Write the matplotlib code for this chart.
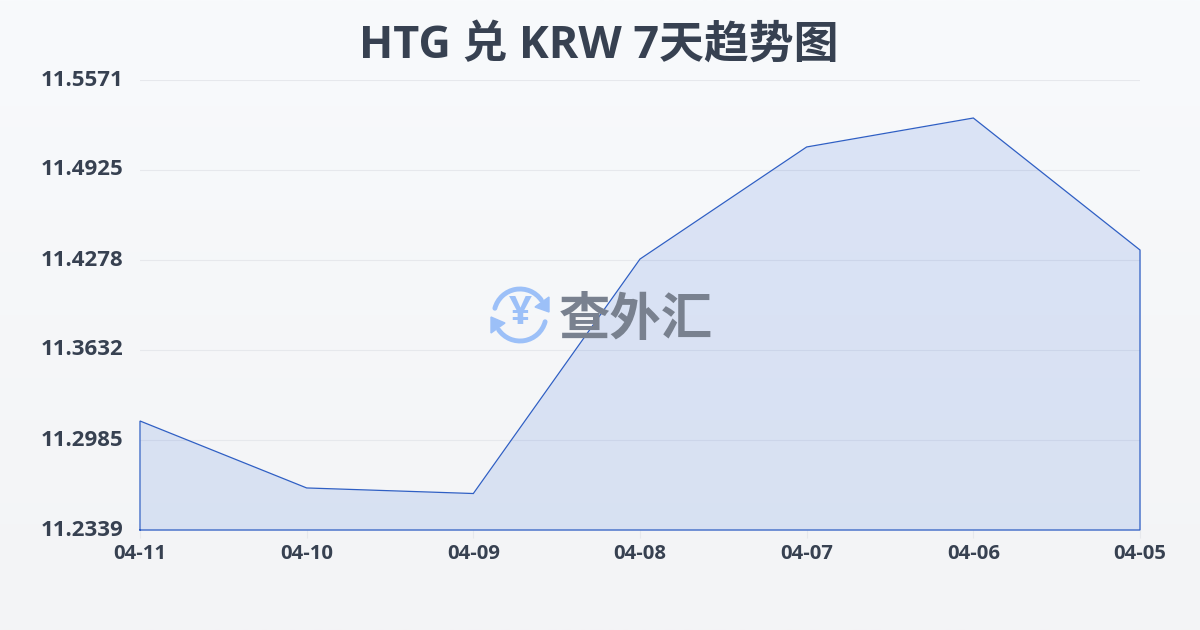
"""HTG / KRW seven-day trend, area chart with the watermark logo in the middle."""
import numpy as np
import matplotlib
matplotlib.use("Agg")
import matplotlib.pyplot as plt
from matplotlib.patches import Arc, Polygon

dates = ["04-11", "04-10", "04-09", "04-08", "04-07", "04-06", "04-05"]
rates = [11.3122, 11.2641, 11.2601, 11.4285, 11.5090, 11.5298, 11.4350]
y_ticks = [11.2339, 11.2985, 11.3632, 11.4278, 11.4925, 11.5571]
y_labels = ["11.2339", "11.2985", "11.3632", "11.4278", "11.4925", "11.5571"]

W, H = 1200, 630
LATIN = "Open Sans"
CJK = [LATIN, "Noto Sans CJK SC", "DejaVu Sans"]
TEXT = "#374151"
LINE = "#2f5fc4"
BLUE = "#9cc0f8"

fig = plt.figure(figsize=(W / 100, H / 100), dpi=100)

# page background, a faint vertical gradient
bg = fig.add_axes([0, 0, 1, 1], zorder=0)
bg.imshow(np.linspace(0, 1, 256).reshape(-1, 1), aspect="auto",
          cmap=matplotlib.colors.LinearSegmentedColormap.from_list("bg", ["#f8fafc", "#f3f4f6"]))
bg.set_axis_off()

ax = fig.add_axes([140 / W, 1 - 530 / H, 1000 / W, 450 / H], zorder=1)
ax.patch.set_alpha(0)
x = np.arange(len(dates))
ax.set_xlim(0, len(dates) - 1)
ax.set_ylim(y_ticks[0], y_ticks[-1])

ax.grid(axis="y", color="#e6e8ec", linewidth=0.8)
ax.set_axisbelow(True)
ax.fill_between(x, rates, y_ticks[0], color="#3c6fdc", alpha=0.15, linewidth=0, zorder=2)
ax.plot([x[0], *x, x[-1], x[0]], [y_ticks[0], *rates, y_ticks[0], y_ticks[0]],
        color=LINE, linewidth=0.9, zorder=4, clip_on=False, solid_joinstyle="miter")

for s in ax.spines.values():
    s.set_visible(False)
ax.set_xticks(x, dates)
ax.set_yticks(y_ticks, y_labels)
ax.tick_params(axis="x", length=6, width=0.8, color="#e6e8ec", pad=4)
ax.tick_params(axis="y", length=0, pad=12)
for t in ax.get_xticklabels():
    t.set(family=LATIN, fontweight="bold", fontsize=14.6, color=TEXT)
for t in ax.get_yticklabels():
    t.set(family=LATIN, fontweight="bold", fontsize=16, color=TEXT, va="center")

fig.text(599 / W, 1 - 46 / H, "HTG 兑 KRW 7天趋势图", family=CJK, fontweight="bold",
         fontsize=32.3, color=TEXT, ha="center", va="center")

# watermark logo, laid out in pixels over the whole figure
logo = fig.add_axes([0, 0, 1, 1], zorder=3)
logo.set_xlim(0, W)
logo.set_ylim(H, 0)
logo.set_axis_off()
logo.patch.set_alpha(0)
cx, cy = 520, 315
logo.add_patch(Arc((cx, cy), 52, 52, theta1=195, theta2=325, color=BLUE, linewidth=3.5, capstyle="round"))
logo.add_patch(Arc((cx, cy), 52, 52, theta1=15, theta2=145, color=BLUE, linewidth=3.5, capstyle="round"))
logo.add_patch(Polygon([[549, 297], [549, 312], [535, 307]], color=BLUE))
logo.add_patch(Polygon([[491, 317], [491, 333], [505, 323]], color=BLUE))
logo.text(cx, cy - 1, "¥", family=LATIN, fontweight="bold", fontsize=29, color=BLUE,
          ha="center", va="center")
logo.text(636, 320, "查外汇", family=["Noto Sans CJK SC", "DejaVu Sans"], fontweight="bold",
          fontsize=37, color="#79818f", ha="center", va="center")

fig.savefig("out.png", dpi=100)
